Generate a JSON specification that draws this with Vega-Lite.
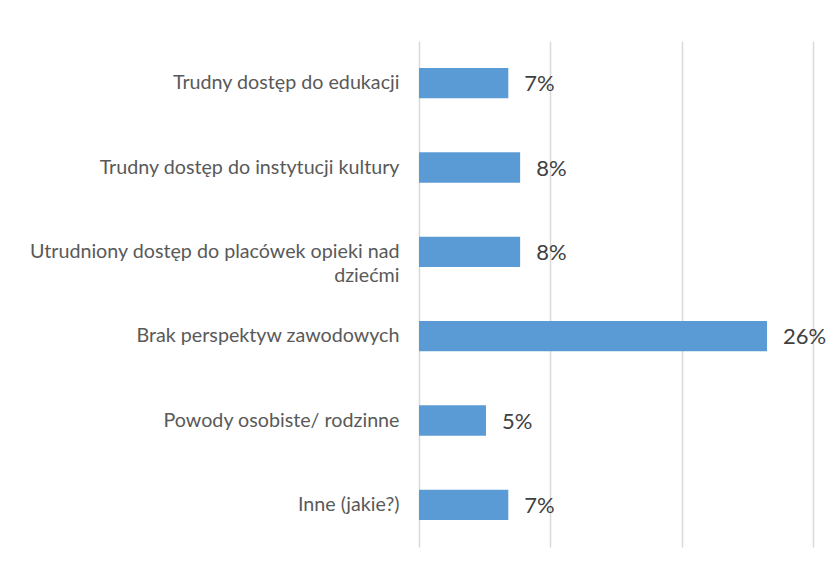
{
  "$schema": "https://vega.github.io/schema/vega-lite/v6.json",
  "autosize": {"type": "none"},
  "padding": {"left": 419, "top": 41, "right": 21, "bottom": 20},
  "width": 394,
  "height": 506,
  "background": "white",
  "data": {
    "values": [
      {"category": "Trudny dostęp do edukacji", "value": 6.8, "label": "7%"},
      {"category": "Trudny dostęp do instytucji kultury", "value": 7.7, "label": "8%"},
      {"category": "Utrudniony dostęp do placówek opieki nad dziećmi", "value": 7.7, "label": "8%"},
      {"category": "Brak perspektyw zawodowych", "value": 26.5, "label": "26%"},
      {"category": "Powody osobiste/ rodzinne", "value": 5.1, "label": "5%"},
      {"category": "Inne (jakie?)", "value": 6.8, "label": "7%"}
    ]
  },
  "encoding": {
    "y": {
      "field": "category",
      "type": "nominal",
      "sort": null,
      "scale": {"paddingInner": 0.64, "paddingOuter": 0.32},
      "axis": {
        "title": null,
        "domain": false,
        "ticks": false,
        "labelPadding": 20,
        "labelFont": "Lato",
        "labelFontSize": 19.7,
        "labelColor": "#595959",
        "labelLimit": 420,
        "labelLineHeight": 24,
        "labelExpr": "datum.label == 'Utrudniony dostęp do placówek opieki nad dziećmi' ? ['Utrudniony dostęp do placówek opieki nad', 'dziećmi'] : datum.label"
      }
    },
    "x": {
      "field": "value",
      "type": "quantitative",
      "scale": {"domain": [0, 30], "nice": false},
      "axis": {
        "title": null,
        "values": [0, 10, 20, 30],
        "labels": false,
        "ticks": false,
        "domain": false,
        "grid": true,
        "gridColor": "#D9D9D9",
        "gridWidth": 1.5
      }
    }
  },
  "layer": [
    {
      "mark": {"type": "bar", "color": "#5B9BD5"}
    },
    {
      "mark": {
        "type": "text",
        "align": "left",
        "baseline": "middle",
        "dx": 16,
        "dy": 1,
        "font": "Lato",
        "fontSize": 22,
        "color": "#404040"
      },
      "encoding": {
        "text": {"field": "label"}
      }
    }
  ],
  "config": {
    "view": {"stroke": null}
  }
}
